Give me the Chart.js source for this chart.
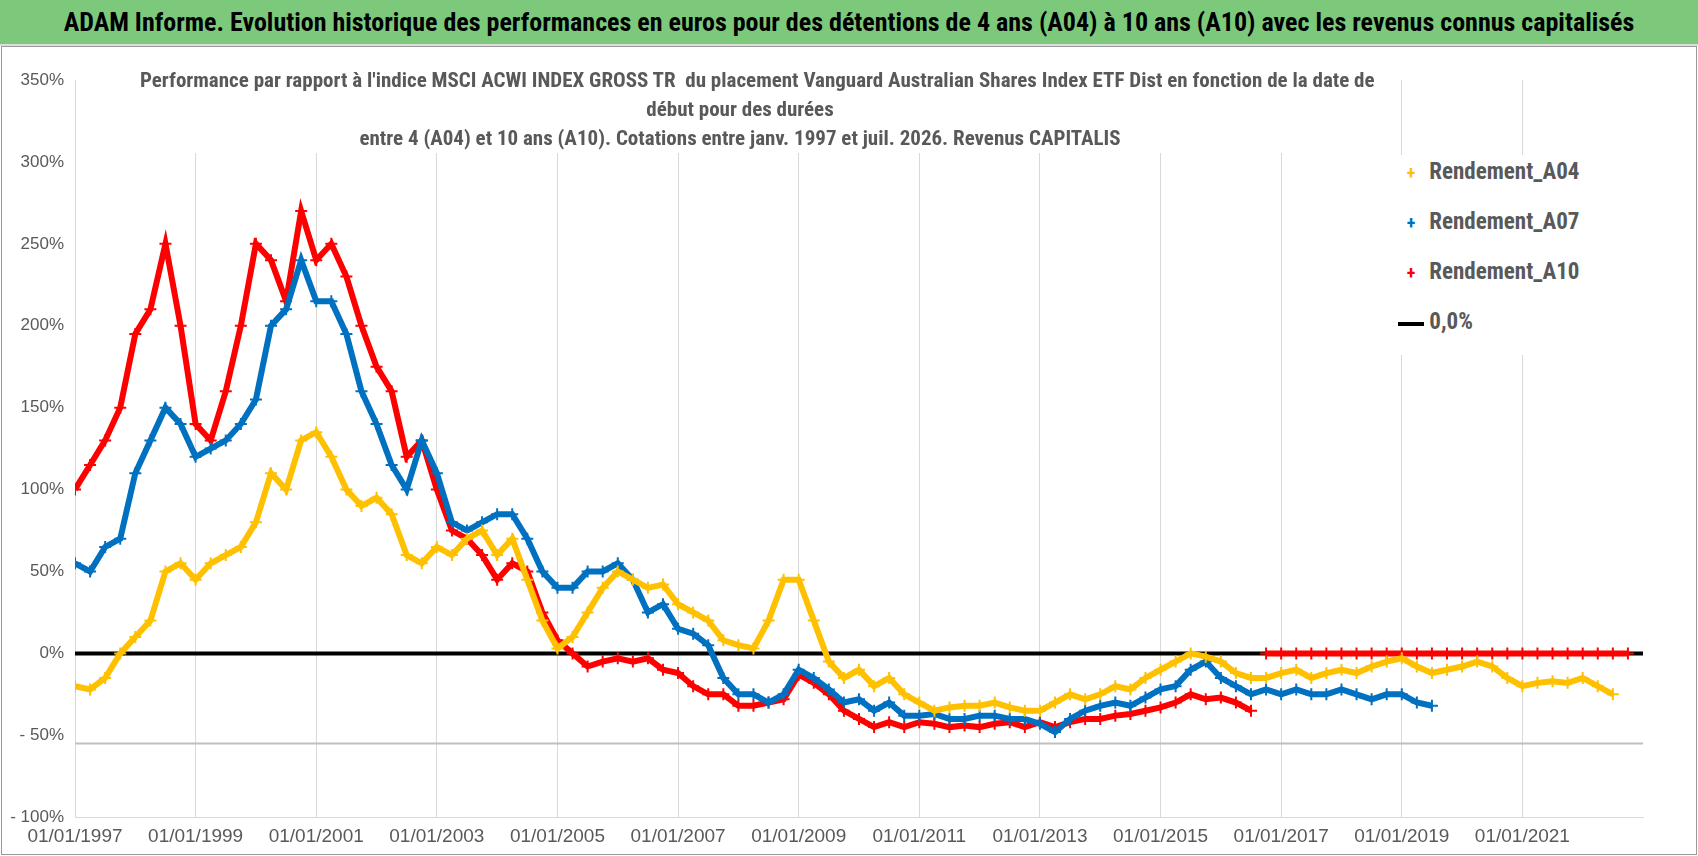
<!DOCTYPE html>
<html>
<head>
<meta charset="utf-8">
<script src="https://cdn.jsdelivr.net/npm/chart.js@4/dist/chart.umd.min.js"></script>
<style>
  body { margin: 0; width: 1698px; height: 856px; overflow: hidden; background: #fff;
         font-family: "Liberation Sans Narrow", "Roboto Condensed", "Liberation Sans", sans-serif; }
  #header { position: absolute; left: 0; top: 0; width: 1698px; height: 44px; background: #7dc97c;
            border-bottom: 2px solid #ddd; font-weight: bold; font-size: 26px; line-height: 44px;
            text-align: center; color: #000; }
  #frame { position: absolute; left: 1px; top: 46px; width: 1694px; height: 807px; border: 1px solid #999; }
  #wrap { position: absolute; left: 0; top: 46px; width: 1698px; height: 810px; }
  #title { position: absolute; left: 140px; top: 66px; width: 1200px; text-align: center; color: #595959;
           font-weight: bold; font-size: 21px; line-height: 29px; background: #fff; white-space: nowrap; }
  #legend { position: absolute; left: 1398px; top: 155px; width: 240px; background: #fff; color: #595959;
            font-weight: bold; font-size: 23px; }
  .item { height: 50px; line-height: 34px; white-space: nowrap; }
  .mk { display: inline-block; width: 26px; text-align: center; font-size: 18px; }
</style>
</head>
<body>
<div id="header">ADAM Informe. Evolution historique des performances en euros pour des détentions de 4 ans (A04) à 10 ans (A10) avec les revenus connus capitalisés</div>
<div id="frame"></div>
<div id="wrap"><canvas id="graphique" width="1698" height="810"></canvas></div>
<div id="title">Performance par rapport à l'indice MSCI ACWI INDEX GROSS TR&nbsp; du placement Vanguard Australian Shares Index ETF Dist en fonction de la date de<br>début pour des durées<br>entre 4 (A04) et 10 ans (A10). Cotations entre janv. 1997 et juil. 2026. Revenus CAPITALIS</div>
<div id="legend">
  <div class="item"><span class="mk" style="color:#ffc000">+</span> Rendement_A04</div>
  <div class="item"><span class="mk" style="color:#0070c0">+</span> Rendement_A07</div>
  <div class="item"><span class="mk" style="color:#ff0000">+</span> Rendement_A10</div>
  <div class="item"><span class="mk"><span style="display:inline-block;width:26px;height:4px;background:#000;vertical-align:middle"></span></span> 0,0%</div>
</div>
<script>
// dates de début (années décimales, pas trimestriel)
var debutA04 = 1997.0, debutA07 = 1997.0, debutA10 = 1997.0;
var pas = 0.25;

var rendementA04 = [-20, -22, -15, 0, 10, 20, 50, 55, 45, 55, 60, 65, 80, 110, 100, 130, 135, 120, 100, 90,
  95, 85, 60, 55, 65, 60, 70, 75, 60, 70, 45, 20, 3, 10, 25, 40, 50, 45, 40, 42,
  30, 25, 20, 8, 5, 3, 20, 45, 45, 20, -5, -15, -10, -20, -15, -25, -30, -35, -33, -32,
  -32, -30, -33, -35, -35, -30, -25, -28, -25, -20, -22, -15, -10, -5, 0, -2, -5, -12, -15, -15,
  -12, -10, -15, -12, -10, -12, -8, -5, -3, -8, -12, -10, -8, -5, -8, -15, -20, -18, -17, -18,
  -15, -20, -25];
var rendementA07 = [55, 50, 65, 70, 110, 130, 150, 140, 120, 125, 130, 140, 155, 200, 210, 240, 215, 215, 195, 160,
  140, 115, 100, 130, 110, 80, 75, 80, 85, 85, 70, 50, 40, 40, 50, 50, 55, 45, 25, 30,
  15, 12, 5, -15, -25, -25, -30, -25, -10, -15, -22, -30, -28, -35, -30, -38, -38, -37, -40, -40,
  -38, -38, -40, -40, -43, -48, -40, -35, -32, -30, -32, -27, -22, -20, -10, -5, -15, -20, -25, -22,
  -25, -22, -25, -25, -22, -25, -28, -25, -25, -30, -32];
var rendementA10 = [100, 115, 130, 150, 195, 210, 250, 200, 140, 130, 160, 200, 250, 240, 215, 270, 240, 250, 230, 200,
  175, 160, 120, 130, 100, 75, 70, 60, 45, 55, 50, 25, 8, 0, -8, -5, -3, -5, -3, -10,
  -12, -20, -25, -25, -32, -32, -30, -28, -13, -18, -25, -35, -40, -45, -42, -45, -42, -43, -45, -44,
  -45, -43, -42, -45, -42, -45, -42, -40, -40, -38, -37, -35, -33, -30, -25, -28, -27, -30, -35];
// A10 sans donnée : valeur 0 affichée à partir de 2016.75
var rendementA10Zero = [0, 0, 0, 0, 0, 0, 0, 0, 0, 0, 0, 0, 0, 0, 0, 0, 0, 0, 0, 0, 0, 0, 0, 0, 0];
var debutA10Zero = 2016.75;
var ligneMin = -55;
var xTicks = [1997, 1999, 2001, 2003, 2005, 2007, 2009, 2011, 2013, 2015, 2017, 2019, 2021];
var yTicks = [-100, -50, 0, 50, 100, 150, 200, 250, 300, 350];

function points(debut, valeurs) {
  return valeurs.map(function(v, i) { return { x: debut + i * pas, y: v }; });
}

function serie(label, couleur, data) {
  return {
    label: label, data: data, showLine: true, borderColor: couleur, borderWidth: 6,
    pointStyle: 'cross', pointRadius: 6, pointBorderWidth: 2, pointBorderColor: couleur,
    backgroundColor: couleur
  };
}

function graphique() {
  var ctx = document.getElementById('graphique');
  var myChart = new Chart(ctx, {
    type: 'scatter',
    data: {
      datasets: [
        serie('Rendement_A04', '#ffc000', points(debutA04, rendementA04)),
        serie('Rendement_A07', '#0070c0', points(debutA07, rendementA07)),
        serie('Rendement_A10', '#ff0000', points(debutA10, rendementA10)),
        serie('A10_zero', '#ff0000', points(debutA10Zero, rendementA10Zero)),
        { label: '0,0%', data: [{ x: 1997, y: 0 }, { x: 2023, y: 0 }], showLine: true,
          borderColor: '#000', borderWidth: 4, pointRadius: 0, order: 10 },
        { label: 'min', data: [{ x: 1997, y: ligneMin }, { x: 2023, y: ligneMin }], showLine: true,
          borderColor: '#bfbfbf', borderWidth: 2, pointRadius: 0, order: 11 }
      ]
    },
    options: {
      responsive: false,
      animation: false,
      layout: { padding: { top: 34, right: 55, bottom: 0, left: 0 } },
      scales: {
        x: {
          type: 'linear', min: 1997, max: 2023,
          afterBuildTicks: function(axis) { axis.ticks = xTicks.map(function(v) { return { value: v }; }); },
          ticks: {
            color: '#595959', font: { size: 19, family: '"Liberation Sans Narrow", sans-serif' },
            maxRotation: 0, padding: 8,
            callback: function(v) { return '01/01/' + v; }
          },
          grid: { color: '#d9d9d9', drawTicks: false },
          border: { color: '#d9d9d9' }
        },
        y: {
          min: -100, max: 350,
          afterBuildTicks: function(axis) { axis.ticks = yTicks.map(function(v) { return { value: v }; }); },
          afterFit: function(axis) { axis.width = 75; },
          ticks: {
            color: '#595959', font: { size: 17, family: '"Liberation Sans Narrow", sans-serif' },
            callback: function(v) { return v < 0 ? '- ' + (-v) + '%' : v + '%'; }
          },
          grid: { display: false },
          border: { color: '#d9d9d9' }
        }
      },
      plugins: { legend: { display: false }, tooltip: { enabled: false } }
    }
  });
}

window.onload = function() {
  graphique();
}
</script>
</body>
</html>
